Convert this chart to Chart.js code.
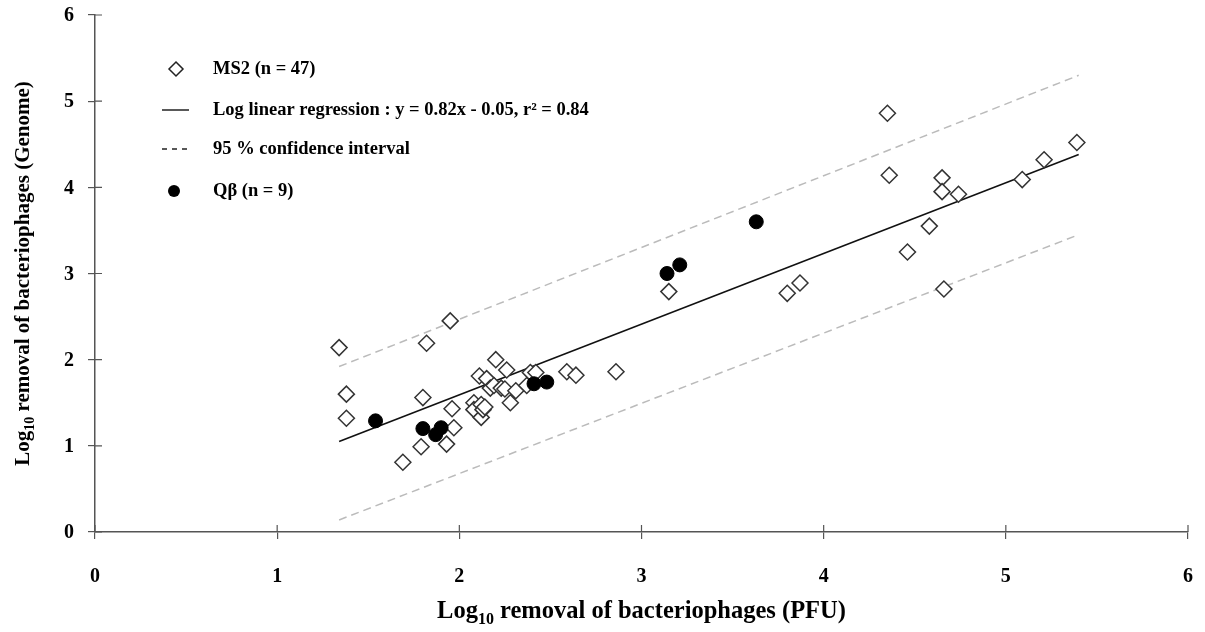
<!DOCTYPE html>
<html>
<head>
<meta charset="utf-8">
<script src="https://cdn.jsdelivr.net/npm/chart.js@4"></script>
<style>
  html, body { margin: 0; padding: 0; background: #fff; }
  #wrap { width: 1205px; height: 632px; }
</style>
</head>
<body>
<div id="wrap"><canvas id="chart"></canvas></div>
<script>
// values
const ms2X = [1.34, 1.38, 1.38, 1.69, 1.79, 1.80, 1.82, 1.93, 1.95, 1.96,
              1.97, 2.08, 2.08, 2.11, 2.12, 2.12, 2.13, 2.14, 2.15, 2.17,
              2.19, 2.20, 2.23, 2.25, 2.26, 2.28, 2.31, 2.37, 2.39, 2.42,
              2.59, 2.64, 2.86, 3.15, 3.80, 3.87, 4.35, 4.36, 4.46, 4.58,
              4.65, 4.65, 4.66, 4.74, 5.09, 5.21, 5.39];
const ms2Y = [2.14, 1.60, 1.32, 0.81, 0.99, 1.56, 2.19, 1.02, 2.45, 1.43,
              1.21, 1.50, 1.42, 1.81, 1.33, 1.48, 1.42, 1.45, 1.78, 1.67,
              1.70, 2.00, 1.67, 1.66, 1.88, 1.50, 1.64, 1.70, 1.85, 1.85,
              1.86, 1.82, 1.86, 2.79, 2.77, 2.89, 4.86, 4.14, 3.25, 3.55,
              4.11, 3.95, 2.82, 3.92, 4.09, 4.32, 4.52];
const qbX = [1.54, 1.80, 1.87, 1.90, 2.41, 2.48, 3.14, 3.21, 3.63];
const qbY = [1.29, 1.20, 1.13, 1.21, 1.72, 1.74, 3.00, 3.10, 3.60];
const lineX = [1.34, 5.40];
const regY = [1.05, 4.38];
const ciUpperY = [1.92, 5.30];
const ciLowerY = [0.14, 3.45];
const axisTicks = [0, 1, 2, 3, 4, 5, 6];

const pts = (xs, ys) => xs.map((x, i) => ({ x: x, y: ys[i] }));
const serif = '"Liberation Serif", "Times New Roman", serif';
const axisColor = '#555';

// ticks that cross the axis line, plus the tick numbers
const axisDecor = {
  id: 'axisDecor',
  afterDraw(chart) {
    const { ctx, chartArea, scales } = chart;
    ctx.save();
    ctx.strokeStyle = axisColor;
    ctx.lineWidth = 1.2;
    ctx.beginPath();
    axisTicks.forEach(v => {
      const px = scales.x.getPixelForValue(v);
      ctx.moveTo(px, chartArea.bottom);
      ctx.lineTo(px, chartArea.bottom - 7);
      const py = scales.y.getPixelForValue(v);
      ctx.moveTo(chartArea.left, py);
      ctx.lineTo(chartArea.left + 7, py);
    });
    ctx.stroke();
    ctx.fillStyle = '#000';
    ctx.font = 'bold 20px ' + serif;
    ctx.textBaseline = 'middle';
    ctx.textAlign = 'center';
    axisTicks.forEach(v => {
      ctx.fillText(String(v), scales.x.getPixelForValue(v), chartArea.bottom + 45);
    });
    ctx.textAlign = 'right';
    axisTicks.forEach(v => {
      ctx.fillText(String(v), chartArea.left - 21, scales.y.getPixelForValue(v) + 1);
    });
    ctx.restore();
  }
};

// axis titles with a subscript 10
function drawSubTitle(ctx, parts, cx, cy, size) {
  const big = 'bold ' + size + 'px ' + serif;
  const small = 'bold ' + Math.round(size * 0.66) + 'px ' + serif;
  ctx.font = big; const w1 = ctx.measureText(parts[0]).width;
  ctx.font = small; const w2 = ctx.measureText(parts[1]).width;
  ctx.font = big; const w3 = ctx.measureText(parts[2]).width;
  let x = cx - (w1 + w2 + w3) / 2;
  ctx.textBaseline = 'alphabetic';
  ctx.textAlign = 'left';
  ctx.font = big; ctx.fillText(parts[0], x, cy); x += w1;
  ctx.font = small; ctx.fillText(parts[1], x, cy + size * 0.25); x += w2;
  ctx.font = big; ctx.fillText(parts[2], x, cy);
}

const axisTitles = {
  id: 'axisTitles',
  afterDraw(chart) {
    const { ctx, chartArea } = chart;
    ctx.save();
    ctx.fillStyle = '#000';
    drawSubTitle(ctx, ['Log', '10', ' removal of bacteriophages (PFU)'],
      (chartArea.left + chartArea.right) / 2, 618, 24.5);
    ctx.translate(29, (chartArea.top + chartArea.bottom) / 2);
    ctx.rotate(-Math.PI / 2);
    drawSubTitle(ctx, ['Log', '10', ' removal of bacteriophages (Genome)'], 0, 0, 21);
    ctx.restore();
  }
};

// legend inside the plot, top left
const boxLegend = {
  id: 'boxLegend',
  afterDraw(chart) {
    const { ctx, chartArea } = chart;
    const mx = chartArea.left + 81, tx = chartArea.left + 118;
    const rows = [54, 95, 134, 176].map(d => chartArea.top + d);
    ctx.save();
    ctx.font = 'bold 18.5px ' + serif;
    ctx.fillStyle = '#000';
    ctx.textBaseline = 'middle';
    ctx.textAlign = 'left';
    ctx.fillText('MS2 (n = 47)', tx, rows[0]);
    ctx.fillText('Log linear regression : y = 0.82x - 0.05, r\u00B2 = 0.84', tx, rows[1]);
    ctx.fillText('95 % confidence interval', tx, rows[2]);
    ctx.fillText('Q\u03B2 (n = 9)', tx, rows[3]);
    // markers
    ctx.strokeStyle = '#222';
    ctx.lineWidth = 1.5;
    ctx.beginPath();
    ctx.moveTo(mx, rows[0] - 7); ctx.lineTo(mx + 7, rows[0]);
    ctx.lineTo(mx, rows[0] + 7); ctx.lineTo(mx - 7, rows[0]); ctx.closePath();
    ctx.fillStyle = '#fff'; ctx.fill(); ctx.stroke();
    ctx.beginPath();
    ctx.moveTo(mx - 14, rows[1]); ctx.lineTo(mx + 13, rows[1]); ctx.stroke();
    ctx.setLineDash([5, 5]);
    ctx.beginPath();
    ctx.moveTo(mx - 14, rows[2]); ctx.lineTo(mx + 13, rows[2]); ctx.stroke();
    ctx.setLineDash([]);
    ctx.fillStyle = '#000';
    ctx.beginPath(); ctx.arc(mx - 2, rows[3], 6, 0, Math.PI * 2); ctx.fill();
    ctx.restore();
  }
};

new Chart(document.getElementById('chart'), {
  type: 'scatter',
  data: {
    datasets: [
      {
        label: 'Q\u03B2 (n = 9)',
        data: pts(qbX, qbY),
        pointStyle: 'circle', pointRadius: 7,
        backgroundColor: '#000', borderColor: '#000', borderWidth: 1
      },
      {
        label: 'MS2 (n = 47)',
        data: pts(ms2X, ms2Y),
        pointStyle: 'rectRot', pointRadius: 8,
        backgroundColor: '#fff', borderColor: '#333', borderWidth: 1.5
      },
      {
        label: 'Log linear regression',
        type: 'line',
        data: pts(lineX, regY),
        borderColor: '#111', borderWidth: 1.6, pointRadius: 0, fill: false
      },
      {
        label: '95 % confidence interval (upper)',
        type: 'line',
        data: pts(lineX, ciUpperY),
        borderColor: '#bbb', borderWidth: 1.5, borderDash: [8, 5], pointRadius: 0, fill: false
      },
      {
        label: '95 % confidence interval (lower)',
        type: 'line',
        data: pts(lineX, ciLowerY),
        borderColor: '#bbb', borderWidth: 1.5, borderDash: [8, 5], pointRadius: 0, fill: false
      }
    ]
  },
  options: {
    responsive: true,
    maintainAspectRatio: false,
    animation: false,
    layout: { padding: { top: 15, right: 17, left: 0, bottom: 0 } },
    plugins: { legend: { display: false }, tooltip: { enabled: false } },
    scales: {
      x: {
        type: 'linear', min: 0, max: 6,
        afterBuildTicks: s => { s.ticks = axisTicks.map(v => ({ value: v })); },
        afterFit: s => { s.height = 100; },
        grid: { drawOnChartArea: false, drawTicks: true, tickLength: 7, color: axisColor, lineWidth: 1.2 },
        border: { display: true, color: axisColor, width: 1.5 },
        ticks: { display: false }
      },
      y: {
        type: 'linear', min: 0, max: 6,
        afterBuildTicks: s => { s.ticks = axisTicks.map(v => ({ value: v })); },
        afterFit: s => { s.width = 95; },
        grid: { drawOnChartArea: false, drawTicks: true, tickLength: 7, color: axisColor, lineWidth: 1.2 },
        border: { display: true, color: axisColor, width: 1.5 },
        ticks: { display: false }
      }
    }
  },
  plugins: [axisDecor, axisTitles, boxLegend]
});
</script>
</body>
</html>
